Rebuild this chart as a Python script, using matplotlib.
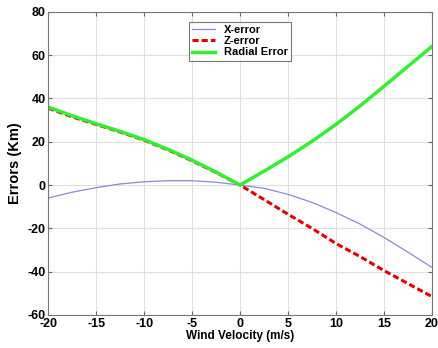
import numpy as np
import matplotlib.pyplot as plt

plt.rcParams['font.family'] = ['Liberation Sans', 'DejaVu Sans']
plt.rcParams['font.weight'] = 'bold'
plt.rcParams['axes.labelweight'] = 'bold'
plt.rcParams['axes.unicode_minus'] = False

# Данные
wind = [-20, -17.5, -15, -12.5, -10, -7.5, -5, -2.5, 0, 2.5, 5, 7.5, 10, 12.5, 15, 17.5, 20]
x_err = [-6, -3.3, -1.2, 0.5, 1.5, 2, 2, 1.3, 0, -1.5, -4.3, -8, -12.7, -18, -24.2, -31, -38]
z_err = [35.5, 31.5, 28, 24.5, 20.7, 16.2, 11.2, 5.8, 0, -6.7, -13.5, -20, -27, -33, -39.5, -45.5, -51.5]
radial = [36, 32, 28.3, 24.8, 21, 16.5, 11.5, 6, 0, 6.4, 13, 20.2, 28, 36.5, 45.6, 54.8, 64]

fig = plt.figure(figsize=(4.38, 3.48), dpi=100)
ax = fig.add_axes([0.11, 0.095, 0.876, 0.871])

ax.plot(wind, x_err, color='#8a8ad0', lw=0.9, label='X-error')
ax.plot(wind, z_err, color='#e00000', lw=2.2, ls=(0, (2, 1)), label='Z-error')
ax.plot(wind, radial, color='#33ee33', lw=2.5, label='Radial Error')

ax.set_xlim(-20, 20)
ax.set_ylim(-60, 80)
ax.set_xticks(np.arange(-20, 21, 5))
ax.set_yticks(np.arange(-60, 81, 20))
ax.grid(True, color='#e0e0e0', lw=0.8)
ax.tick_params(direction='in', labelsize=9, length=3, pad=2, top=True, right=True,
               color='#666666')
ax.set_xlabel('Wind Velocity (m/s)', fontsize=8.5, labelpad=0)
ax.set_ylabel('Errors (Km)', fontsize=10.5, labelpad=4)
for s in ax.spines.values():
    s.set_color('#777777')

leg = ax.legend(loc='upper center', bbox_to_anchor=(0.5, 0.985), fontsize=8,
                frameon=True, fancybox=False, edgecolor='#555555',
                handlelength=2.0, borderpad=0.3, labelspacing=0.1)
leg.get_frame().set_linewidth(0.8)

fig.savefig('out.png', dpi=100)
